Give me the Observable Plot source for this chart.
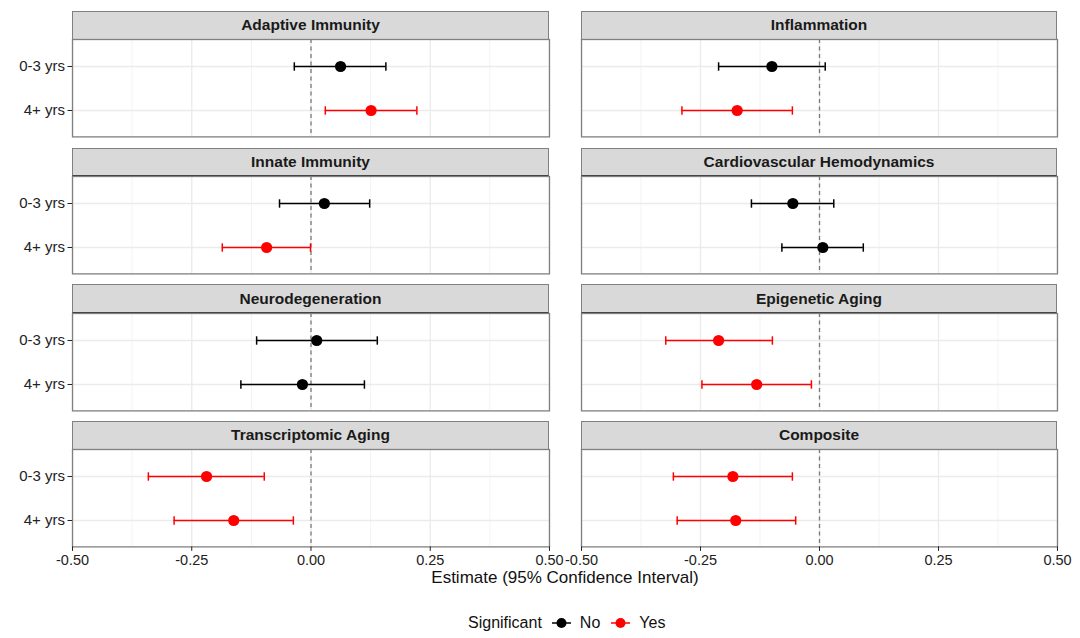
<!DOCTYPE html>
<html>
<head>
<meta charset="utf-8">
<script src="https://cdn.jsdelivr.net/npm/d3@7"></script>
<script src="https://cdn.jsdelivr.net/npm/@observablehq/plot@0.6"></script>
<style>
  body { margin: 0; background: white; }
  #wrap { position: relative; width: 1080px; height: 638px; background: white; font-family: "Liberation Sans", Arial, sans-serif; overflow: hidden; }
  .strip { position: absolute; box-sizing: border-box; background: #d9d9d9; border: 1px solid #808080; border-bottom: 1.5px solid #3a3a3a;
           display: flex; align-items: center; justify-content: center; font-weight: bold; font-size: 15.5px; color: #1a1a1a; }
  .plotbox { position: absolute; }
  #xtitle { position: absolute; left: 0; width: 1130px; text-align: center; top: 568px; font-size: 17px; color: #111; }
  #legend { position: absolute; top: 614px; left: 468px; display: flex; align-items: center; font-size: 16px; color: #111; white-space: nowrap; }
</style>
</head>
<body>
<div id="wrap"></div>
<script>
// ---- data ----
const domains = ["Adaptive Immunity", "Inflammation", "Innate Immunity", "Cardiovascular Hemodynamics",
                 "Neurodegeneration", "Epigenetic Aging", "Transcriptomic Aging", "Composite"];
const groups = ["0-3 yrs", "4+ yrs"];
const estimate03 = [0.062, -0.100, 0.028, -0.056, 0.012, -0.212, -0.219, -0.182];
const lower03    = [-0.035, -0.212, -0.066, -0.143, -0.114, -0.323, -0.341, -0.307];
const upper03    = [0.157, 0.012, 0.123, 0.030, 0.139, -0.099, -0.098, -0.057];
const sig03      = ["No", "No", "No", "No", "No", "Yes", "Yes", "Yes"];
const estimate4  = [0.126, -0.173, -0.093, 0.007, -0.018, -0.132, -0.162, -0.176];
const lower4     = [0.030, -0.289, -0.186, -0.079, -0.147, -0.247, -0.287, -0.299];
const upper4     = [0.222, -0.057, -0.001, 0.092, 0.112, -0.017, -0.037, -0.050];
const sig4       = ["Yes", "Yes", "Yes", "No", "No", "Yes", "Yes", "Yes"];
const sigLevels = ["No", "Yes"];
const sigColors = ["black", "red"];
const xMajorTicks = [-0.5, -0.25, 0, 0.25, 0.5];
const xMinorTicks = [-0.375, -0.125, 0.125, 0.375];
const xDomain = [-0.5, 0.5];
const legendTitle = "Significant";
const xTitle = "Estimate (95% Confidence Interval)";

const wrap = document.getElementById("wrap");
const font = "'Liberation Sans', Arial, sans-serif";
const cap = { draw(ctx) { ctx.moveTo(0, -4.2); ctx.lineTo(0, 4.2); } };
const fmt = d => d.toFixed(2);

domains.forEach((name, i) => {
  const col = i % 2, row = Math.floor(i / 2);
  const frameLeft = col ? 581 : 72;
  const frameW = col ? 476 : 477;
  const headerTop = 11 + row * 136.6;
  const headerH = 28.3;
  const panelTop = headerTop + headerH;
  const panelH = 97.4;

  const strip = document.createElement("div");
  strip.className = "strip";
  strip.style.left = frameLeft + "px";
  strip.style.top = headerTop + "px";
  strip.style.width = frameW + "px";
  strip.style.height = (headerH + 0.5) + "px";
  strip.textContent = name;
  wrap.appendChild(strip);

  const rows = [
    {group: groups[0], est: estimate03[i], lo: lower03[i], hi: upper03[i], sig: sig03[i]},
    {group: groups[1], est: estimate4[i], lo: lower4[i], hi: upper4[i], sig: sig4[i]}
  ];

  const ML = col ? 20 : 72, MR = 20, MT = 0, MB = row === 3 ? 40 : 1;
  const marks = [
    Plot.ruleX(xMinorTicks, {stroke: "#f3f3f3", strokeWidth: 1}),
    Plot.ruleX(xMajorTicks, {stroke: "#ebebeb", strokeWidth: 1.4}),
    Plot.ruleY(groups, {stroke: "#ebebeb", strokeWidth: 1.4}),
    Plot.ruleX([0], {stroke: "#7a7a7a", strokeWidth: 1.3, strokeDasharray: "4,3.5"}),
    Plot.ruleY(rows, {y: "group", x1: "lo", x2: "hi", stroke: "sig", strokeWidth: 1.5}),
    Plot.dot(rows, {x: "lo", y: "group", symbol: cap, fill: "none", stroke: "sig", strokeWidth: 1.5, r: 4}),
    Plot.dot(rows, {x: "hi", y: "group", symbol: cap, fill: "none", stroke: "sig", strokeWidth: 1.5, r: 4}),
    Plot.dot(rows, {x: "est", y: "group", fill: "sig", r: 5.6}),
    Plot.frame({stroke: "#808080", strokeWidth: 1.3})
  ];
  if (col === 0) marks.push(Plot.axisY({tickSize: 4.5, tickPadding: 3, fontSize: 15, color: "#222", label: null}));
  if (row === 3) marks.push(Plot.axisX({ticks: xMajorTicks, tickFormat: fmt, tickSize: 4.5, tickPadding: 3, fontSize: 14.5, color: "#222", label: null}));

  const chart = Plot.plot({
    width: ML + frameW + MR,
    height: MT + panelH + MB,
    marginLeft: ML, marginRight: MR, marginTop: MT, marginBottom: MB,
    style: {background: "transparent", overflow: "visible", fontFamily: font},
    x: {domain: xDomain, axis: null},
    y: {type: "point", domain: groups, padding: 0.6, axis: null},
    color: {domain: sigLevels, range: sigColors},
    marks
  });
  const box = document.createElement("div");
  box.className = "plotbox";
  box.style.left = (frameLeft - ML) + "px";
  box.style.top = (panelTop - MT) + "px";
  box.appendChild(chart);
  wrap.appendChild(box);
});

const xt = document.createElement("div");
xt.id = "xtitle";
xt.textContent = xTitle;
wrap.appendChild(xt);

const lg = document.createElement("div");
lg.id = "legend";
let html = `<span style="margin-right:9px">${legendTitle}</span>`;
sigLevels.forEach((lv, k) => {
  html += `<svg width="21" height="14" style="margin-right:8px"><line x1="1" x2="20" y1="7" y2="7" stroke="${sigColors[k]}" stroke-width="1.5"/><circle cx="10.5" cy="7" r="5" fill="${sigColors[k]}"/></svg><span style="margin-right:10px">${lv}</span>`;
});
lg.innerHTML = html;
wrap.appendChild(lg);
</script>
</body>
</html>
